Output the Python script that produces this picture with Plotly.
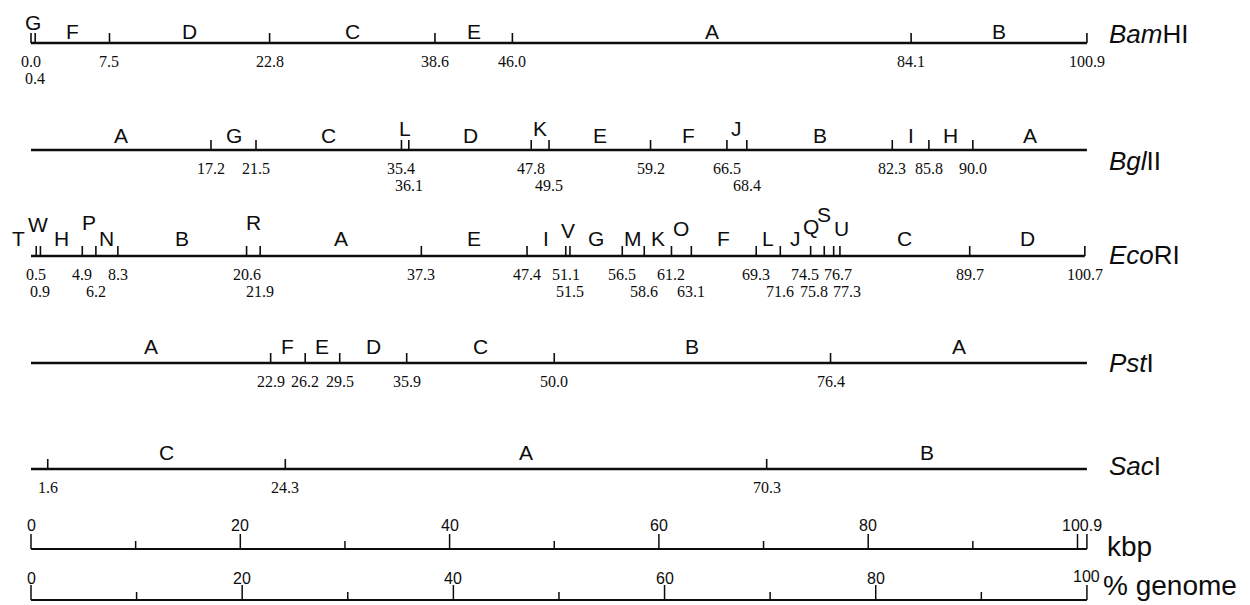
import plotly.graph_objects as go

# ---------------- data (kbp) ----------------
GENOME_KBP = 100.9

ENZYMES = ["BamHI", "BglII", "EcoRI", "PstI", "SacI"]
ENZYME_ITALIC = ["Bam", "Bgl", "Eco", "Pst", "Sac"]
ENZYME_ROMAN = ["HI", "II", "RI", "I", "I"]

BAMHI_SITES = [0.0, 0.4, 7.5, 22.8, 38.6, 46.0, 84.1, 100.9]
BAMHI_FRAGS = ["G", "F", "D", "C", "E", "A", "B"]

BGLII_SITES = [17.2, 21.5, 35.4, 36.1, 47.8, 49.5, 59.2, 66.5, 68.4, 82.3, 85.8, 90.0]
BGLII_FRAGS = ["A", "G", "C", "L", "D", "K", "E", "F", "J", "B", "I", "H", "A"]

ECORI_SITES = [0.5, 0.9, 4.9, 6.2, 8.3, 20.6, 21.9, 37.3, 47.4, 51.1, 51.5, 56.5,
               58.6, 61.2, 63.1, 69.3, 71.6, 74.5, 75.8, 76.7, 77.3, 89.7, 100.7]
ECORI_FRAGS = ["T", "W", "H", "P", "N", "B", "R", "A", "E", "I", "V", "G", "M",
               "K", "O", "F", "L", "J", "Q", "S", "U", "C", "D"]

PSTI_SITES = [22.9, 26.2, 29.5, 35.9, 50.0, 76.4]
PSTI_FRAGS = ["A", "F", "E", "D", "C", "B", "A"]

SACI_SITES = [1.6, 24.3, 70.3]
SACI_FRAGS = ["", "C", "A", "B"]

MAP_ENDS = [100.9, 100.9, 100.7, 100.9, 100.9]

KBP_MAJOR = [0, 20, 40, 60, 80]
KBP_MINOR = [10, 30, 50, 70, 90]
KBP_END = [100, 100.9]
KBP_LABELS = ["0", "20", "40", "60", "80", "100.9"]

PCT_MAJOR = [0, 20, 40, 60, 80, 100]
PCT_MINOR = [10, 30, 50, 70, 90]
PCT_LABELS = ["0", "20", "40", "60", "80", "100"]

SITES = [BAMHI_SITES, BGLII_SITES, ECORI_SITES, PSTI_SITES, SACI_SITES]
FRAGS = [BAMHI_FRAGS, BGLII_FRAGS, ECORI_FRAGS, PSTI_FRAGS, SACI_FRAGS]

# ---------------- style / layout ----------------
W, H = 1250, 605
X0_PX, PX_PER_KBP = 31.0, 10.465
XR = [(0 - X0_PX) / PX_PER_KBP, (W - X0_PX) / PX_PER_KBP]
XR2 = [v * 100.0 / GENOME_KBP for v in XR]

ROW_Y = [43, 150, 256, 363, 469]
LETTER_DY = [-12, -15, -18, -17, -17]
NAME_DY = [-9, 11, -1, 0, -3]
TICK_H = 10
NUM_DY = [18, 35]
ROW_GAP = 2.8
NUM_MIN_SEP_PX = 33
# raised / shifted fragment letters: (map index, fragment index) -> (dx px, dy px)
LETTER_SHIFT = {
    (0, 0): (0, -9),
    (1, 3): (0, -7), (1, 5): (0, -7), (1, 8): (0, -7),
    (2, 0): (-15, 0), (2, 1): (0, -14), (2, 3): (0, -16), (2, 6): (0, -16),
    (2, 10): (0, -8), (2, 14): (0, -10), (2, 18): (-6, -12), (2, 19): (-5, -24),
    (2, 20): (5, -10),
}
KBP_Y, PCT_Y = 549, 600
INK = "#0d0d0d"
LETTER_FONT = dict(family="Liberation Sans, Arial", size=21, color=INK)
NUM_FONT = dict(family="Liberation Serif, Times New Roman", size=16, color=INK)
NAME_FONT = dict(family="Liberation Sans, Arial", size=26, color=INK)
AXNUM_FONT = dict(family="Liberation Sans, Arial", size=16, color=INK)


def assign_rows(sites, gap):
    last = [None, None]
    rows = []
    for s in sites:
        g = [(s - l) if l is not None else 1e9 for l in last]
        if g[0] >= gap:
            r = 0
        elif g[1] >= gap:
            r = 1
        else:
            r = 0 if g[0] >= g[1] else 1
        last[r] = s
        rows.append(r)
    return rows


def label_shifts(sites, rows):
    """pixel shifts that spread crowded number labels in the same row"""
    shifts = [0.0] * len(sites)
    for r in (0, 1):
        idx = [i for i, rr in enumerate(rows) if rr == r]
        for a, b in zip(idx, idx[1:]):
            d = (sites[b] - sites[a]) * PX_PER_KBP + shifts[b] - shifts[a]
            if d < NUM_MIN_SEP_PX:
                deficit = NUM_MIN_SEP_PX - d
                shifts[a] -= deficit * 0.6
                shifts[b] += deficit * 0.4
    return shifts


fig = go.Figure()
ann = []

for m, (sites, frags, end, y) in enumerate(zip(SITES, FRAGS, MAP_ENDS, ROW_Y)):
    fig.add_trace(go.Scatter(x=[0, end], y=[y, y], mode="lines",
                             line=dict(color=INK, width=2.7), hoverinfo="skip"))
    tx, ty = [], []
    for s in sites:
        tx += [s, s, None]
        ty += [y, y - TICK_H, None]
    fig.add_trace(go.Scatter(x=tx, y=ty, mode="lines",
                             line=dict(color=INK, width=1.6), hoverinfo="skip"))
    rows = assign_rows(sites, ROW_GAP)
    shifts = label_shifts(sites, rows)
    for s, r, sh in zip(sites, rows, shifts):
        ann.append(dict(x=s, y=y + NUM_DY[r], text=f"{s:.1f}", showarrow=False,
                        font=NUM_FONT, xanchor="center", yanchor="middle",
                        xshift=sh))
    pts = ([0.0] if sites[0] != 0 else []) + list(sites) + ([end] if sites[-1] != end else [])
    for i, lab in enumerate(frags):
        if not lab:
            continue
        mid = (pts[i] + pts[i + 1]) / 2
        dx, dy = LETTER_SHIFT.get((m, i), (0, 0))
        ann.append(dict(x=mid, y=y + LETTER_DY[m] + dy, text=lab, showarrow=False,
                        font=LETTER_FONT, xanchor="center", yanchor="middle",
                        xshift=dx))
    ann.append(dict(x=GENOME_KBP, y=y + NAME_DY[m],
                    text=f"<i>{ENZYME_ITALIC[m]}</i>{ENZYME_ROMAN[m]}",
                    showarrow=False, font=NAME_FONT, xanchor="left",
                    yanchor="middle", xshift=20))

# kbp scale
fig.add_trace(go.Scatter(x=[0, GENOME_KBP], y=[KBP_Y, KBP_Y], mode="lines",
                         line=dict(color=INK, width=1.8), hoverinfo="skip"))
tx, ty = [], []
for v in KBP_MAJOR + KBP_END:
    tx += [v, v, None]
    ty += [KBP_Y, KBP_Y - 15, None]
for v in KBP_MINOR:
    tx += [v, v, None]
    ty += [KBP_Y, KBP_Y - 8, None]
fig.add_trace(go.Scatter(x=tx, y=ty, mode="lines", line=dict(color=INK, width=1.5),
                         hoverinfo="skip"))
for v, lab in zip(KBP_MAJOR + [GENOME_KBP], KBP_LABELS):
    ann.append(dict(x=v, y=KBP_Y - 24, text=lab, showarrow=False, font=AXNUM_FONT,
                    xanchor="center", yanchor="middle",
                    xshift=-5 if lab == "100.9" else 0))
ann.append(dict(x=GENOME_KBP, y=KBP_Y - 3, text="kbp", showarrow=False,
                font=dict(family="Liberation Sans, Arial", size=28, color=INK),
                xanchor="left", yanchor="middle", xshift=18))

# % genome scale
fig.add_trace(go.Scatter(x=[0, 100], y=[PCT_Y, PCT_Y], mode="lines", xaxis="x2",
                         line=dict(color=INK, width=1.8), hoverinfo="skip"))
tx, ty = [], []
for v in PCT_MAJOR:
    tx += [v, v, None]
    ty += [PCT_Y, PCT_Y - 15, None]
for v in PCT_MINOR:
    tx += [v, v, None]
    ty += [PCT_Y, PCT_Y - 8, None]
fig.add_trace(go.Scatter(x=tx, y=ty, mode="lines", xaxis="x2",
                         line=dict(color=INK, width=1.5), hoverinfo="skip"))
for v, lab in zip(PCT_MAJOR, PCT_LABELS):
    ann.append(dict(x=v, y=PCT_Y - 22 - (2 if lab == "100" else 0), text=lab,
                    showarrow=False, font=AXNUM_FONT,
                    xref="x2", xanchor="center", yanchor="middle"))
ann.append(dict(x=100, y=PCT_Y - 15, text="% genome", showarrow=False, xref="x2",
                font=dict(family="Liberation Sans, Arial", size=28, color=INK),
                xanchor="left", yanchor="middle", xshift=14))

fig.update_layout(
    width=W, height=H, margin=dict(l=0, r=0, t=0, b=0),
    paper_bgcolor="white", plot_bgcolor="white", showlegend=False,
    xaxis=dict(range=XR, visible=False, fixedrange=True),
    xaxis2=dict(range=XR2, visible=False, overlaying="x", fixedrange=True),
    yaxis=dict(range=[H, 0], visible=False, fixedrange=True),
    annotations=ann,
)

fig.write_html(
    "out.html",
    config={"displayModeBar": False},
    post_script="document.body.style.margin='0';document.body.style.overflow='hidden';",
)
